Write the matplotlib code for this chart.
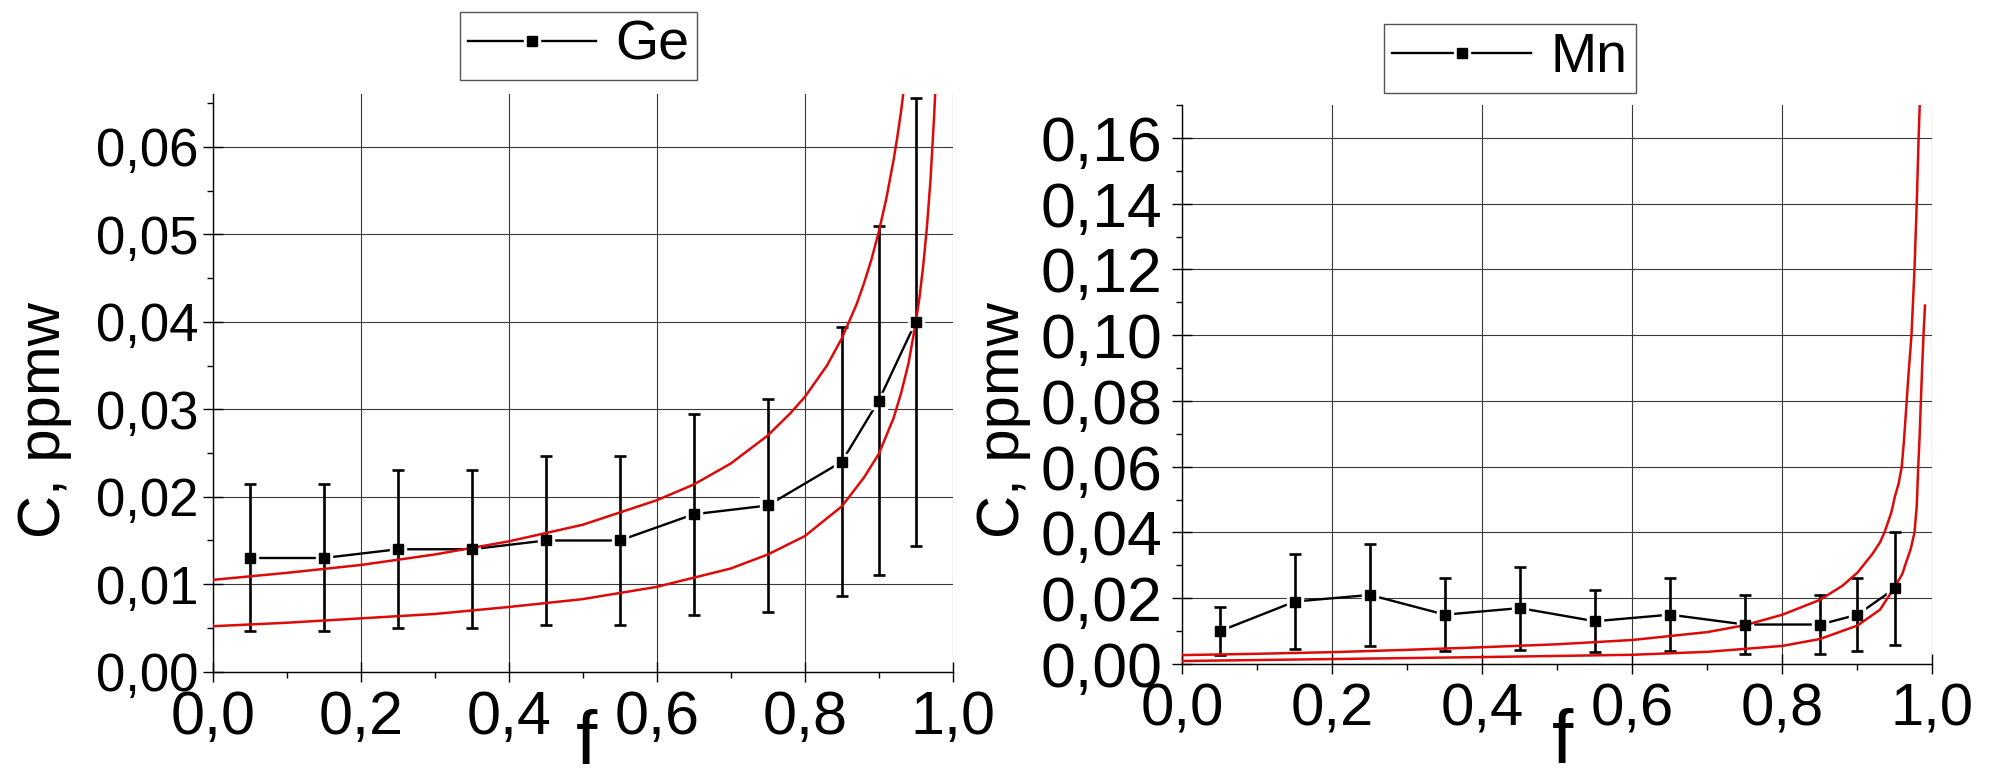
import numpy as np
import matplotlib
matplotlib.use('Agg')
import matplotlib.pyplot as plt
from matplotlib.ticker import FuncFormatter, MultipleLocator

# points (fraction solidified f)
f_pts = [0.05, 0.15, 0.25, 0.35, 0.45, 0.55, 0.65, 0.75, 0.85, 0.90, 0.95]

# Ge data
ge_c = [0.013, 0.013, 0.014, 0.014, 0.015, 0.015, 0.018, 0.019, 0.024, 0.031, 0.040]
ge_err = [0.0084, 0.0084, 0.0090, 0.0090, 0.0097, 0.0097, 0.0115, 0.0122, 0.0154, 0.0199, 0.0256]

# Ge red curves
ge_up_f = [0, 0.1, 0.2, 0.3, 0.4, 0.5, 0.6, 0.65, 0.7, 0.75, 0.78, 0.8, 0.83, 0.85, 0.87, 0.88, 0.89,
           0.9, 0.91, 0.92, 0.925, 0.93, 0.935]
ge_up_c = [0.0105, 0.0113, 0.0122, 0.0134, 0.0149, 0.0168, 0.0196, 0.0214, 0.0238, 0.0270, 0.0295,
           0.0314, 0.0350, 0.0381, 0.0420, 0.0444, 0.0471, 0.0503, 0.0540, 0.0585, 0.0611, 0.0640, 0.0674]
ge_lo_f = [0, 0.1, 0.2, 0.3, 0.4, 0.5, 0.6, 0.7, 0.75, 0.8, 0.85, 0.88, 0.9, 0.92, 0.93, 0.94, 0.95,
           0.955, 0.96, 0.965, 0.97, 0.975, 0.977]
ge_lo_c = [0.0052, 0.0056, 0.0061, 0.0066, 0.0074, 0.0083, 0.0097, 0.0118, 0.0134, 0.0155, 0.0189,
           0.0222, 0.0249, 0.0290, 0.0318, 0.0352, 0.0399, 0.0428, 0.0464, 0.0508, 0.0564, 0.0639, 0.0676]

# Mn data
mn_c = [0.010, 0.019, 0.021, 0.015, 0.017, 0.013, 0.015, 0.012, 0.012, 0.015, 0.023]
mn_err = [0.0074, 0.0143, 0.0155, 0.0111, 0.0126, 0.0095, 0.0112, 0.0089, 0.0089, 0.0112, 0.0172]

# Mn red curves
mn_up_f = [0, 0.1, 0.2, 0.3, 0.4, 0.5, 0.6, 0.7, 0.75, 0.8, 0.85, 0.88, 0.9, 0.92, 0.93, 0.936,
           0.945, 0.95, 0.955, 0.959, 0.962, 0.965, 0.968, 0.972, 0.976, 0.979, 0.9815, 0.983]
mn_up_c = [0.0027, 0.0031, 0.0036, 0.0043, 0.0051, 0.0060, 0.0073, 0.0097, 0.0118, 0.0150, 0.0195,
           0.0238, 0.0278, 0.0335, 0.0370, 0.040, 0.046, 0.051, 0.055, 0.060, 0.068, 0.078, 0.088,
           0.100, 0.120, 0.140, 0.160, 0.170]
mn_lo_f = [0, 0.2, 0.4, 0.6, 0.7, 0.8, 0.85, 0.9, 0.93, 0.95, 0.96, 0.965, 0.971, 0.976, 0.979,
           0.981, 0.983, 0.9845, 0.986, 0.988, 0.990]
mn_lo_c = [0.0009, 0.0015, 0.0021, 0.0028, 0.0037, 0.0055, 0.0076, 0.0117, 0.0165, 0.0235, 0.0275,
           0.031, 0.035, 0.040, 0.048, 0.060, 0.070, 0.080, 0.089, 0.100, 0.109]

REG = ['Liberation Sans', 'DejaVu Sans']
NAR = ['Liberation Sans Narrow', 'Liberation Sans', 'DejaVu Sans']
RED = '#dd0a0a'

fig = plt.figure(figsize=(19.9, 7.83), dpi=100)
ax1 = fig.add_axes([0.1069, 0.1421, 0.3719, 0.7375])
ax2 = fig.add_axes([0.5942, 0.152, 0.3769, 0.7139])


def panel(ax, c, err, upf, upc, lof, loc_, name, ymax, ymaj, ymin, yfont, yfs, ypad, xfs, xpad, legpos, hl):
    ax.set_xlim(0, 1.0)
    ax.set_ylim(0, ymax)
    # curves
    ax.plot(upf, upc, color=RED, lw=1.8, zorder=3.5)
    ax.plot(lof, loc_, color=RED, lw=1.8, zorder=3.5)
    # connecting line, white gap, error bars, markers
    l1, = ax.plot(f_pts, c, '-', color='black', lw=1.7, zorder=2)
    l2, = ax.plot(f_pts, c, 's', color='white', ms=11, mec='white', zorder=2.2)
    ax.errorbar(f_pts, c, yerr=err, fmt='none', ecolor='black', elinewidth=1.9,
                capsize=4, capthick=1.9, zorder=3)
    l3, = ax.plot(f_pts, c, 's', color='black', ms=7.5, zorder=4)

    ax.xaxis.set_major_locator(MultipleLocator(0.2))
    ax.xaxis.set_minor_locator(MultipleLocator(0.1))
    ax.yaxis.set_major_locator(MultipleLocator(ymaj))
    ax.yaxis.set_minor_locator(MultipleLocator(ymin))
    ax.xaxis.set_major_formatter(FuncFormatter(lambda v, p: ('%.1f' % v).replace('.', ',')))
    ax.yaxis.set_major_formatter(FuncFormatter(lambda v, p: ('%.2f' % v).replace('.', ',')))

    ax.grid(True, which='major', color='#3a3a3a', lw=0.8, zorder=0.5)
    for s in ['top', 'right']:
        ax.spines[s].set_visible(False)
    for s in ['left', 'bottom']:
        ax.spines[s].set_linewidth(1.0)
    ax.tick_params(which='major', direction='inout', length=15, width=1.0)
    ax.tick_params(which='minor', direction='out', length=4, width=1.0)
    ax.tick_params(axis='y', which='major', pad=ypad)
    ax.tick_params(axis='x', which='major', pad=xpad)
    for t in ax.get_yticklabels():
        t.set_family(yfont)
        t.set_fontsize(yfs)
    for t in ax.get_xticklabels():
        t.set_family(NAR)
        t.set_fontsize(xfs)
    # no grid line on the right edge
    ax.xaxis.get_gridlines()[-1].set_visible(False)

    leg = ax.legend([(l1, l2, l3)], [name], loc='center', bbox_to_anchor=legpos,
                    bbox_transform=fig.transFigure, prop={'family': REG, 'size': 40},
                    fancybox=False, framealpha=1, edgecolor='#555555', borderpad=0.15,
                    handlelength=hl, handletextpad=0.35)
    leg.get_frame().set_linewidth(1.0)


panel(ax1, ge_c, ge_err, ge_up_f, ge_up_c, ge_lo_f, ge_lo_c, 'Ge', 0.066, 0.01, 0.005,
      REG, 38, 2.5, 44, 6, (0.2907, 0.9413), 2.3)
panel(ax2, mn_c, mn_err, mn_up_f, mn_up_c, mn_lo_f, mn_lo_c, 'Mn', 0.17, 0.02, 0.01,
      NAR, 45, 7, 43, 5.5, (0.7588, 0.9253), 2.5)

# axis titles
fig.text(0.0224, 0.463, 'C, ppmw', rotation=90, ha='center', va='center', family=REG, fontsize=43)
fig.text(0.5045, 0.4636, 'C, ppmw', rotation=90, ha='center', va='center', family=REG, fontsize=43)
fig.text(0.2948, 0.024, 'f', ha='center', va='baseline', family=REG, fontsize=55)
fig.text(0.7854, 0.026, 'f', ha='center', va='baseline', family=REG, fontsize=55)

plt.savefig('out.png', dpi=100)
